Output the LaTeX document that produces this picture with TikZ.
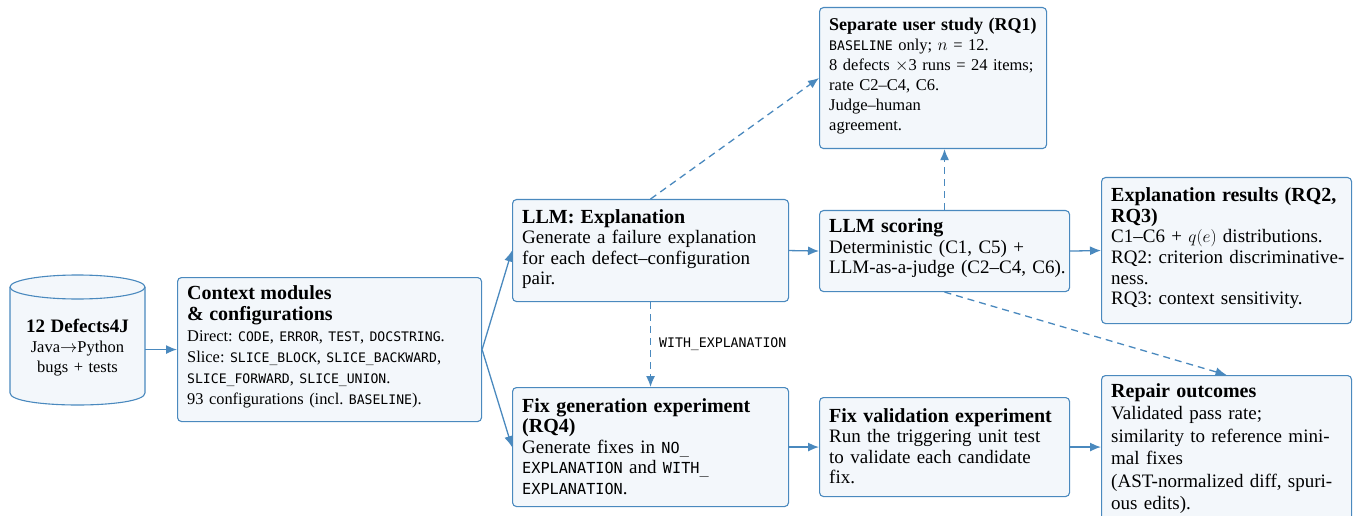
\documentclass[tikz,border=0pt]{standalone}
\usepackage{fontspec}
\setmainfont{Liberation Serif}
\setmonofont[Scale=0.8]{DejaVu Sans Mono}
\usetikzlibrary{arrows.meta}
\definecolor{bblue}{HTML}{4A89BE}
\definecolor{bfill}{HTML}{F3F7FB}
\newcommand\hd[1]{{\fontsize{20}{20.5}\selectfont\bfseries #1}}
\newcommand\hds[1]{{\fontsize{18}{20}\selectfont\bfseries #1}}
\frenchspacing
\begin{document}
\frenchspacing
\begin{tikzpicture}[x=1pt,y=-1pt,
 box/.style={draw=bblue, fill=bfill, line width=1.1pt, rounded corners=4pt, inner sep=0pt, anchor=north west},
 txt/.style={anchor=base west, inner sep=0pt, align=left, font=\fontsize{19}{20.5}\selectfont},
 arr/.style={draw=bblue, line width=1.3pt, -{Latex[length=11pt,width=9pt]}},
 darr/.style={arr, dash pattern=on 7pt off 5pt},
 lbl/.style={inner sep=0pt, font=\fontsize{16.5}{18}\selectfont}
]
\useasboundingbox (0,0) rectangle (1353,516);
\clip (0,0) rectangle (1353,516);

% cylinder
\fill[bfill] (10,287) -- (10,393) .. controls (10,409) and (145,409) .. (145,393) -- (145,287) .. controls (145,271) and (10,271) .. cycle;
\draw[bblue, line width=1.1pt] (10,287) -- (10,393) .. controls (10,409) and (145,409) .. (145,393) -- (145,287);
\draw[bblue, line width=1.1pt] (77.5,287) ellipse [x radius=67.5, y radius=12];
\node[inner sep=0pt, minimum width=135pt, minimum height=130pt] (db) at (77.5,341) {};
\node[anchor=base, inner sep=0pt, text width=130pt, align=center, font=\fontsize{16.5}{20}\selectfont] (dbtxt) at (77.5,332)
 {{\fontsize{19}{20}\selectfont\bfseries 12 Defects4J}\\ Java$\rightarrow$Python\\ bugs + tests};

% boxes
\node[box, minimum width=304pt, minimum height=144pt] (ctx) at (177,277) {};
\node[box, minimum width=276pt, minimum height=102pt] (expl) at (512,199) {};
\node[box, minimum width=276pt, minimum height=119pt] (fixgen) at (512,387) {};
\node[box, minimum width=227pt, minimum height=141pt] (study) at (819,7) {};
\node[box, minimum width=250pt, minimum height=81pt] (score) at (819,210) {};
\node[box, minimum width=250pt, minimum height=146pt] (results) at (1101,177) {};
\node[box, minimum width=250pt, minimum height=99pt] (fixval) at (819,397) {};
\node[box, minimum width=250pt, minimum height=160pt] (repair) at (1101,375) {};

% texts
\node[txt, text width=292pt, font=\fontsize{16.4}{21}\selectfont] (ctxtxt) at ([xshift=10pt,yshift=-22pt]ctx.north west)
 {\hd{Context modules\\ \& configurations}\\
  Direct: \texttt{CODE}, \texttt{ERROR}, \texttt{TEST}, \texttt{DOCSTRING}.\\
  Slice: \texttt{SLICE\_BLOCK}, \texttt{SLICE\_BACKWARD},\\
  \texttt{SLICE\_FORWARD}, \texttt{SLICE\_UNION}.\\
  93 configurations (incl. \texttt{BASELINE}).};
\node[txt, text width=264pt] (expltxt) at ([xshift=10pt,yshift=-24pt]expl.north west)
 {\hd{LLM: Explanation}\\ Generate a failure explanation\\ for each defect–configuration\\ pair.};
\node[txt, text width=264pt] (fixgentxt) at ([xshift=10pt,yshift=-25pt]fixgen.north west)
 {\hd{Fix generation experiment\\ (RQ4)}\\ Generate fixes in \texttt{NO\_}\\ \texttt{EXPLANATION} and \texttt{WITH\_}\\ \texttt{EXPLANATION}.};
\node[txt, text width=215pt, font=\fontsize{16.5}{20}\selectfont] (studytxt) at ([xshift=10pt,yshift=-24pt]study.north west)
 {\hds{Separate user study (RQ1)}\\ \texttt{BASELINE} only; $n$ = 12.\\ 8 defects $\times$3 runs = 24 items;\\ rate C2–C4, C6.\\ Judge–human\\ agreement.};
\node[txt, text width=238pt] (scoretxt) at ([xshift=10pt,yshift=-23pt]score.north west)
 {\hd{LLM scoring}\\ Deterministic (C1, C5) +\\ LLM-as-a-judge (C2–C4, C6).};
\node[txt, text width=238pt] (resultstxt) at ([xshift=10pt,yshift=-25pt]results.north west)
 {\hd{Explanation results (RQ2,\\ RQ3)}\\ C1–C6 + $q(e)$ distributions.\\ RQ2: criterion discriminative-\\ ness.\\ RQ3: context sensitivity.};
\node[txt, text width=238pt] (fixvaltxt) at ([xshift=10pt,yshift=-25pt]fixval.north west)
 {\hd{Fix validation experiment}\\ Run the triggering unit test\\ to validate each candidate\\ fix.};
\node[txt, text width=238pt, font=\fontsize{19}{22.5}\selectfont] (repairtxt) at ([xshift=10pt,yshift=-22pt]repair.north west)
 {\hd{Repair outcomes}\\ Validated pass rate;\\ similarity to reference mini-\\ mal fixes\\ (AST-normalized diff, spuri-\\ ous edits).};

% connectors
\draw[arr] (db.east |- ctx.west) -- (ctx.west);
\draw[arr] (ctx.east) -- (expl.west);
\draw[arr] (ctx.east) -- (fixgen.west);
\draw[darr] (expl.north) -- (study.west);
\draw[darr] (expl.south) -- node[lbl, anchor=west, xshift=8pt] (wlab) {\texttt{WITH\_EXPLANATION}} (fixgen.north);
\draw[arr] (expl.east) -- (score.west);
\draw[darr] (score.north) -- (score.north |- study.south);
\draw[arr] (score.east) -- (results.west);
\draw[darr] (score.south) -- (repair.north);
\draw[arr] (fixgen.east) -- (fixgen.east -| fixval.west);
\draw[arr] (fixval.east) -- (fixval.east -| repair.west);
\end{tikzpicture}
\end{document}
